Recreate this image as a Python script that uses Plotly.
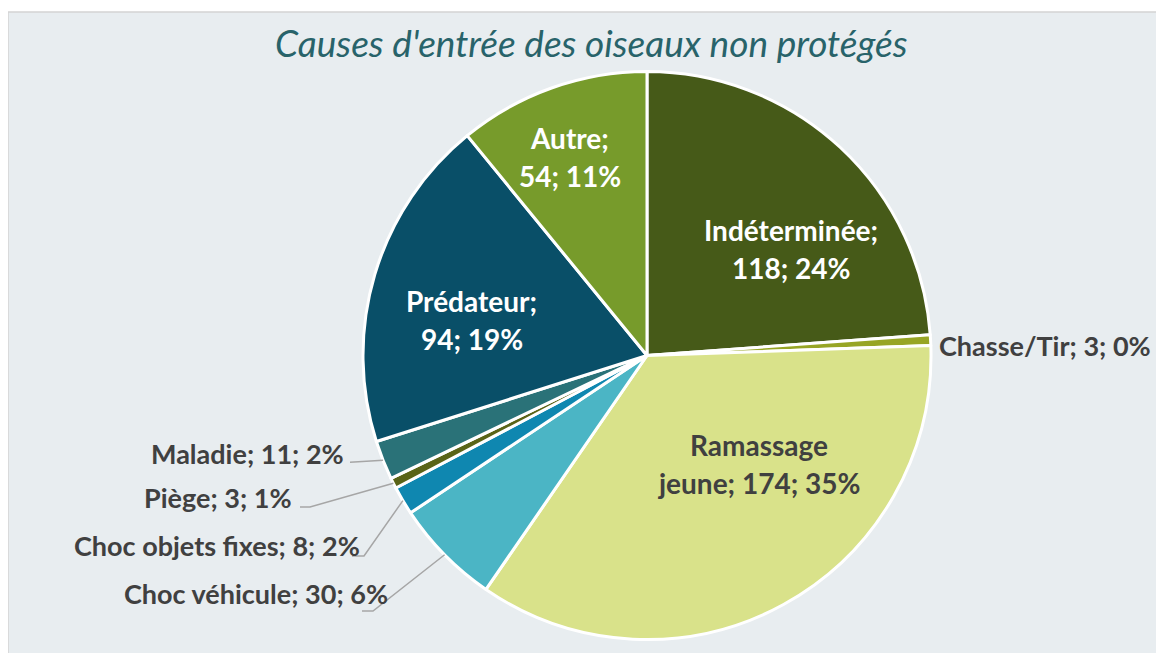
import math
import plotly.graph_objects as go

# ---------------- data ----------------
categories = ["Indéterminée", "Chasse/Tir", "Ramassage jeune", "Choc véhicule",
              "Choc objets fixes", "Piège", "Maladie", "Prédateur", "Autre"]
counts = [118, 3, 174, 30, 8, 3, 11, 94, 54]
pct_labels = ["24%", "0%", "35%", "6%", "2%", "1%", "2%", "19%", "11%"]
title_text = "Causes d'entrée des oiseaux non protégés"

# ---------------- style ----------------
colors = ["#465a18", "#97a525", "#d9e28a", "#4bb5c5", "#0f87b0",
          "#5a6417", "#2a7278", "#094f68", "#779b2b"]
W, H = 1164, 653
OFF = 8                               # page body margin offset (screen px)
CX, CY, R = 647, 355.5, 284           # pie centre / radius in screen pixels
BG = "#e8edf0"
DARK = "#404040"
FONT = "Lato"
LINE_GAP = 38

# inside labels: (angle offset from slice middle in deg, radius fraction, text colour, break mode)
inside_style = {
    "Indéterminée": (10.7, 0.63, "white", "semi"),
    "Ramassage jeune": (-17.2, 0.55, DARK, "word"),
    "Prédateur": (-5.0, 0.63, "white", "semi"),
    "Autre": (-1.6, 0.75, "white", "semi"),
}
# outside labels: anchor px (x, y), xanchor, leader elbow px, leader tail x px (or None)
outside_style = {
    "Chasse/Tir": ((937, 345), "left", None, None),
    "Maladie": ((346, 453), "right", None, 350),
    "Piège": ((294, 497), "right", (310, 507), 300),
    "Choc objets fixes": ((362, 545), "right", (364, 556), 352),
    "Choc véhicule": ((390, 593), "right", (373, 611), 362),
}


def px(x):
    return (x - OFF) / W


def py(y):
    return 1 - (y - OFF) / H


fig = go.Figure()
fig.add_trace(go.Pie(
    values=counts, labels=categories, sort=False, direction="clockwise", rotation=0,
    marker=dict(colors=colors, line=dict(color="white", width=3)),
    textinfo="none", hoverinfo="label+value+percent", showlegend=False,
    domain=dict(x=[px(CX - R), px(CX + R)], y=[py(CY + R), py(CY - R)]),
))

total = sum(counts)
annotations = []
shapes = [dict(type="rect", xref="paper", yref="paper",
               x0=px(8), x1=px(W + 20), y0=py(H + 20), y1=py(12),
               fillcolor=BG, line=dict(color="#d4d4d4", width=1.5), layer="below")]

cum = 0.0
for cat, v, p in zip(categories, counts, pct_labels):
    a0 = cum / total * 360
    cum += v
    a1 = cum / total * 360
    mid = (a0 + a1) / 2
    if cat in inside_style:
        off, rf, col, mode = inside_style[cat]
        ang = math.radians(mid + off)
        x = CX + R * rf * math.sin(ang)
        y = CY - R * rf * math.cos(ang)
        if mode == "word":
            first, rest = cat.split(" ", 1)
            lines = [first, f"{rest}; {v}; {p}"]
        else:
            lines = [f"{cat};", f"{v}; {p}"]
        for i, ln in enumerate(lines):
            yy = y + (i - 0.5) * LINE_GAP
            annotations.append(dict(x=px(x), y=py(yy), xref="paper", yref="paper", text=ln,
                                    showarrow=False, xanchor="center", yanchor="middle",
                                    font=dict(family=FONT, size=28, color=col, weight="bold")))
    else:
        (lx, ly), xa, elbow, tail = outside_style[cat]
        annotations.append(dict(x=px(lx), y=py(ly), xref="paper", yref="paper",
                                text=f"{cat}; {v}; {p}", showarrow=False,
                                xanchor=xa, yanchor="middle",
                                font=dict(family=FONT, size=27, color=DARK, weight="bold")))
        if tail is not None:
            ang = math.radians(mid)
            sx = CX + R * math.sin(ang)
            sy = CY - R * math.cos(ang)
            pts = [(sx, sy)]
            if elbow is not None:
                pts.append(elbow)
                pts.append((tail, elbow[1]))
            else:
                pts.append((tail, sy + 2))
            path = "M " + " L ".join(f"{px(a):.5f},{py(b):.5f}" for a, b in pts)
            shapes.append(dict(type="path", xref="paper", yref="paper", path=path,
                               line=dict(color="#a6a6a6", width=1.5)))

annotations.append(dict(x=px(591), y=py(42), xref="paper", yref="paper", text=title_text,
                        showarrow=False, xanchor="center", yanchor="middle",
                        font=dict(family=FONT, size=37, color="#28636a", style="italic")))

fig.update_layout(
    width=W, height=H, margin=dict(l=0, r=0, t=0, b=0),
    paper_bgcolor="white", plot_bgcolor="white",
    annotations=annotations, shapes=shapes,
)
fig.write_html("out.html")
